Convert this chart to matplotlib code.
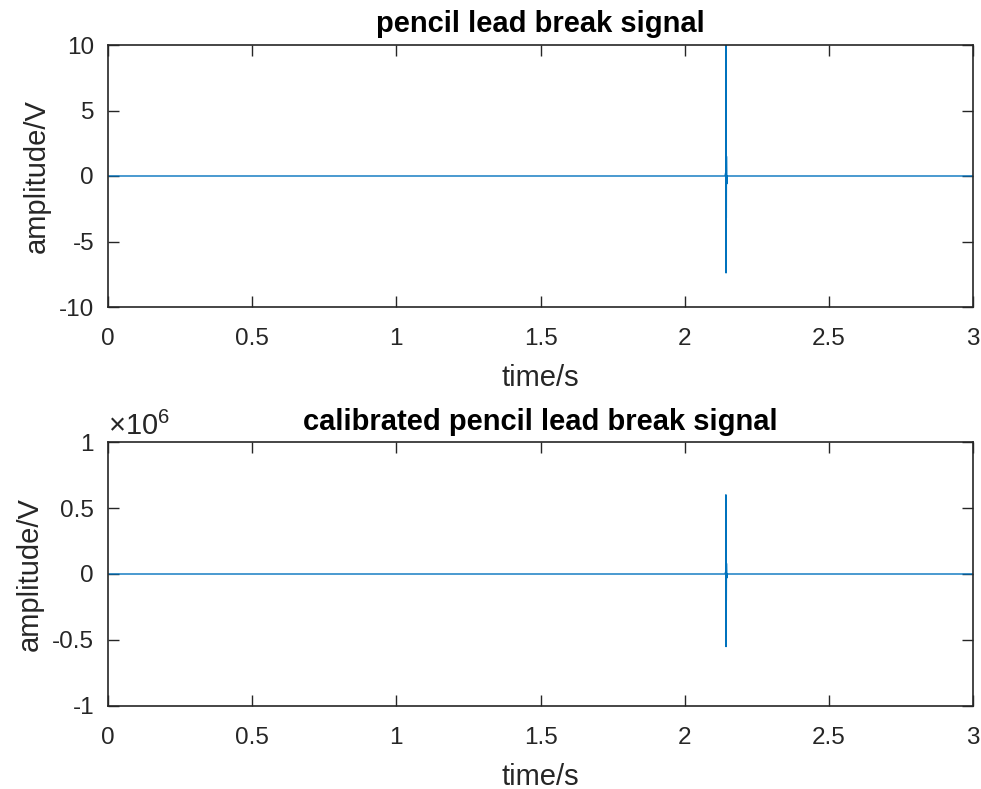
import numpy as np
import matplotlib
matplotlib.use("Agg")
from matplotlib import pyplot as plt

plt.rcParams['font.family'] = ['Liberation Sans', 'DejaVu Sans']
plt.rcParams['mathtext.fontset'] = 'custom'
plt.rcParams['mathtext.rm'] = 'Liberation Sans'
plt.rcParams['mathtext.it'] = 'Liberation Sans'

# raw pencil lead break record (V)
t_raw = [0.0, 2.1400, 2.1425, 2.1430, 2.1435, 2.1440, 2.1445, 2.1450, 2.1460, 2.1480, 3.0]
v_raw = [0.0, 0.0, 0.3, 10.4, -7.4, 6.7, -3.2, 1.5, -0.6, 0.0, 0.0]

# calibrated record
t_cal = [0.0, 2.1400, 2.1425, 2.1430, 2.1435, 2.1440, 2.1445, 2.1450, 2.1460, 2.1480, 3.0]
v_cal = [0.0, 0.0, 0.02e6, 0.60e6, -0.55e6, 0.38e6, -0.2e6, 0.08e6, -0.03e6, 0.0, 0.0]

line_col = '#0072BD'
ax_col = '#262626'

fig = plt.figure(figsize=(9.81, 7.89), dpi=100)
ax1 = fig.add_axes([108/981, 1-307/789, 865/981, 262/789])
ax2 = fig.add_axes([108/981, 1-706/789, 865/981, 264/789])


def style(ax, ylim, yticks, ylabels):
    ax.set_xlim(0, 3)
    ax.set_ylim(*ylim)
    ax.set_xticks([0, 0.5, 1, 1.5, 2, 2.5, 3])
    ax.set_xticklabels(['0', '0.5', '1', '1.5', '2', '2.5', '3'])
    ax.set_yticks(yticks)
    ax.set_yticklabels(ylabels)
    ax.tick_params(direction='in', top=True, right=True, length=8, width=1,
                   colors=ax_col, labelsize=17.5)
    ax.tick_params(axis='x', pad=15)
    ax.tick_params(axis='y', pad=10)
    for s in ax.spines.values():
        s.set_color(ax_col)
        s.set_linewidth(1.2)
    ax.set_xlabel('time/s', fontsize=21, color=ax_col, labelpad=10)
    ax.set_ylabel('amplitude/V', fontsize=21, color=ax_col, labelpad=6)


ax1.plot(t_raw, v_raw, color=line_col, lw=1.0)
style(ax1, (-10, 10), [-10, -5, 0, 5, 10], ['-10', '-5', '0', '5', '10'])
ax1.set_title('pencil lead break signal', fontsize=21, fontweight='bold', pad=9)

ax2.plot(t_cal, v_cal, color=line_col, lw=1.0)
style(ax2, (-1e6, 1e6), [-1e6, -0.5e6, 0, 0.5e6, 1e6], ['-1', '-0.5', '0', '0.5', '1'])
ax2.text(0, 1.004, r'$\times10^{6}$', transform=ax2.transAxes, fontsize=21,
         color=ax_col, ha='left', va='bottom')
ax2.set_title('calibrated pencil lead break signal', fontsize=21, fontweight='bold', pad=9)

fig.savefig('out.png', dpi=100)
